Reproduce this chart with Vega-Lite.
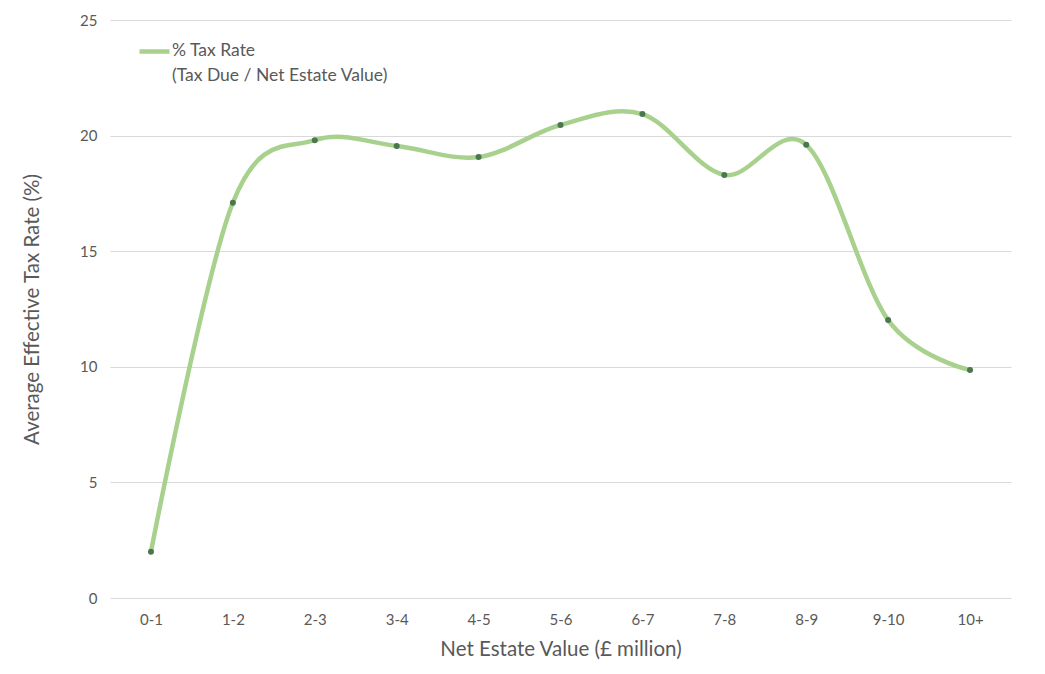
{
  "$schema": "https://vega.github.io/schema/vega-lite/v6.json",
  "width": 901,
  "height": 578,
  "autosize": "none",
  "padding": {"left": 110, "top": 20, "right": 34, "bottom": 76},
  "background": "white",
  "data": {
    "values": [
      {"band": "0-1", "rate": 2.0, "series": "% Tax Rate"},
      {"band": "1-2", "rate": 17.1, "series": "% Tax Rate"},
      {"band": "2-3", "rate": 19.8, "series": "% Tax Rate"},
      {"band": "3-4", "rate": 19.55, "series": "% Tax Rate"},
      {"band": "4-5", "rate": 19.07, "series": "% Tax Rate"},
      {"band": "5-6", "rate": 20.46, "series": "% Tax Rate"},
      {"band": "6-7", "rate": 20.93, "series": "% Tax Rate"},
      {"band": "7-8", "rate": 18.3, "series": "% Tax Rate"},
      {"band": "8-9", "rate": 19.6, "series": "% Tax Rate"},
      {"band": "9-10", "rate": 12.02, "series": "% Tax Rate"},
      {"band": "10+", "rate": 9.86, "series": "% Tax Rate"}
    ]
  },
  "encoding": {
    "x": {
      "field": "band",
      "type": "ordinal",
      "sort": null,
      "scale": {"paddingOuter": 0.5},
      "axis": {
        "title": "Net Estate Value (£ million)",
        "labelAngle": 0,
        "ticks": false,
        "domain": false,
        "labelFontSize": 15,
        "labelPadding": 14,
        "titleFontSize": 20.5,
        "titlePadding": 12,
        "titleFontWeight": "normal"
      }
    },
    "y": {
      "field": "rate",
      "type": "quantitative",
      "scale": {"domain": [0, 25]},
      "axis": {
        "title": "Average Effective Tax Rate (%)",
        "values": [0, 5, 10, 15, 20, 25],
        "ticks": false,
        "domain": false,
        "labelFontSize": 15,
        "labelPadding": 13,
        "titleFontSize": 20.5,
        "titlePadding": 37,
        "titleFontWeight": "normal"
      }
    }
  },
  "layer": [
    {
      "mark": {"type": "line", "interpolate": "cardinal", "strokeWidth": 4.5, "strokeCap": "round"},
      "encoding": {
        "color": {
          "field": "series",
          "type": "nominal",
          "scale": {"range": ["#a9d18e"]},
          "legend": {
            "title": null,
            "orient": "none",
            "legendX": 27,
            "legendY": 14,
            "symbolType": "stroke",
            "symbolSize": 900,
            "symbolStrokeWidth": 4.5,
            "labelFontSize": 17.5,
            "labelOffset": 0,
            "labelExpr": "['% Tax Rate', '(Tax Due / Net Estate Value)']",
            "labelBaseline": "top",
            "labelLimit": 400,
            "encode": {"labels": {"update": {"lineHeight": {"value": 25}, "dy": {"value": -10}}}}
          }
        }
      }
    },
    {
      "mark": {"type": "point", "filled": true, "size": 36, "color": "#4a7650", "opacity": 1}
    }
  ],
  "config": {
    "font": "Lato",
    "view": {"stroke": null},
    "axis": {
      "labelColor": "#595959",
      "titleColor": "#595959",
      "gridColor": "#d9d9d9",
      "gridWidth": 1
    },
    "axisX": {"grid": false},
    "legend": {"labelColor": "#595959"}
  }
}
